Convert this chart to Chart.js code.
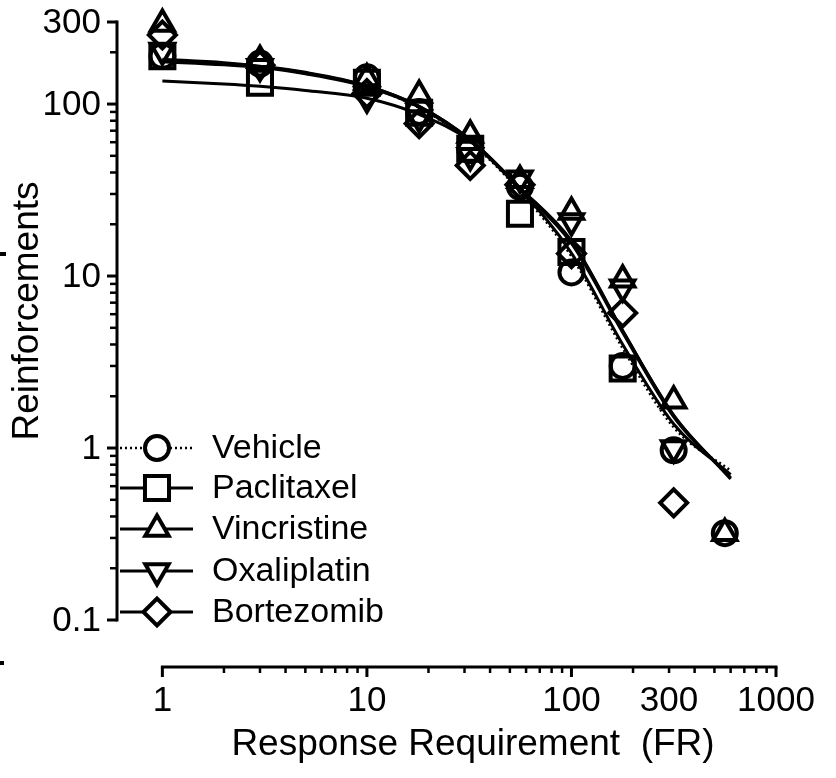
<!DOCTYPE html>
<html>
<head>
<meta charset="utf-8">
<script src="https://cdn.jsdelivr.net/npm/chart.js@4.4.1/dist/chart.umd.min.js"></script>
<style>
  html, body { margin: 0; padding: 0; background: #fff; }
</style>
</head>
<body>
<canvas id="demandChart" width="836" height="778"></canvas>
<script>
// Fixed-ratio schedule values (x) and reinforcers earned per group
const fr = [1, 3, 10, 18, 32, 56, 100, 178, 316, 562];
const vehicle     = [190, 172, 143, 90, 54, 33, 10.5, 3.0, 0.97, 0.32];
const paclitaxel  = [190, 133, 133, 89, 55, 23, 13.8, 2.9, null, null];
const vincristine = [292, 180, 141, 113, 66, 36, 23.6, 9.5, 1.88, 0.32];
const oxaliplatin = [205, 165, 108, 83, 50, 37, 20.9, 8.6, 1.0, null];
const bortezomib  = [252, 168, 115, 77, 44, 34, 13.5, 6.1, 0.48, null];

// Fitted demand curves, sampled along the x axis
const fitFr = [1, 2, 3, 5, 10, 18, 32, 56, 100, 178, 316, 600];
const vehicleFit     = [178, 171, 164, 151, 126, 95, 60, 31, 13.0, 3.8, 1.32, 0.74];
const paclitaxelFit  = [136, 131, 127, 120, 108, 87, 61, 32, 15.5, 4.7, 1.52, 0.67];
const vincristineFit = [182, 174, 166, 153, 128, 97, 62, 32.5, 16.0, 4.8, 1.55, 0.66];
const oxaliplatinFit = [176, 169, 163, 150, 126, 96, 61, 32, 13.6, 4.0, 1.38, 0.70];
const bortezomibFit  = [180, 172, 165, 152, 127, 97, 62, 32.5, 15.8, 4.8, 1.55, 0.67];

const groups = ["Vehicle", "Paclitaxel", "Vincristine", "Oxaliplatin", "Bortezomib"];

const xTickValues = [1, 10, 100, 300, 1000];
const xTickLabels = ["1", "10", "100", "300", "1000"];
const yTickValues = [0.1, 1, 10, 100, 300];
const yTickLabels = ["0.1", "1", "10", "100", "300"];

const FONT = "'Liberation Sans', Arial, sans-serif";

const markers = [
  { pointStyle: 'circle', radius: 12, rotation: 0 },
  { pointStyle: 'rect', radius: 17, rotation: 0 },
  { pointStyle: 'triangle', radius: 13.5, rotation: 0 },
  { pointStyle: 'triangle', radius: 13.5, rotation: 180 },
  { pointStyle: 'rectRot', radius: 13.5, rotation: 0 }
];

function pairs(xs, ys) {
  const out = [];
  xs.forEach((x, i) => { if (ys[i] != null) out.push({ x: x, y: ys[i] }); });
  return out;
}

const pointSets = [vehicle, paclitaxel, vincristine, oxaliplatin, bortezomib];
const fitSets = [vehicleFit, paclitaxelFit, vincristineFit, oxaliplatinFit, bortezomibFit];

const datasets = [];
pointSets.forEach((vals, i) => {
  datasets.push({
    label: groups[i],
    data: pairs(fr, vals),
    showLine: false,
    pointStyle: markers[i].pointStyle,
    pointRadius: markers[i].radius,
    pointRotation: markers[i].rotation,
    pointBorderWidth: 4,
    pointBorderColor: '#000',
    pointBackgroundColor: 'rgba(0,0,0,0)',
    clip: false
  });
});
fitSets.forEach((vals, i) => {
  datasets.push({
    label: groups[i] + ' fit',
    data: pairs(fitFr, vals),
    showLine: true,
    pointRadius: 0,
    borderColor: '#000',
    borderWidth: i === 0 ? 2.5 : 3,
    borderDash: i === 0 ? [2, 3] : [],
    cubicInterpolationMode: 'monotone',
    clip: false
  });
});

// Prism-style offset axes, tick marks, labels and the in-plot legend
const axesPlugin = {
  id: 'axesPlugin',
  beforeDatasetsDraw(chart) {
    const ctx = chart.ctx;
    const xs = chart.scales.x, ys = chart.scales.y;
    ctx.save();
    ctx.strokeStyle = '#000';
    ctx.fillStyle = '#000';
    ctx.lineWidth = 3;
    ctx.lineCap = 'butt';

    // y axis
    const yAxisX = xs.left;
    const yTop = ys.getPixelForValue(300), yBot = ys.getPixelForValue(0.1);
    ctx.beginPath();
    ctx.moveTo(yAxisX, yTop - 1.5);
    ctx.lineTo(yAxisX, yBot + 1.5);
    ctx.stroke();
    const yMinor = [];
    [0.1, 1, 10].forEach(d => { for (let k = 2; k <= 9; k++) yMinor.push(d * k); });
    yMinor.push(200);
    ctx.lineWidth = 2.5;
    yMinor.forEach(v => {
      const py = ys.getPixelForValue(v);
      ctx.beginPath(); ctx.moveTo(yAxisX, py); ctx.lineTo(yAxisX - 7, py); ctx.stroke();
    });
    ctx.lineWidth = 3;
    yTickValues.forEach(v => {
      const py = ys.getPixelForValue(v);
      ctx.beginPath(); ctx.moveTo(yAxisX, py); ctx.lineTo(yAxisX - 10, py); ctx.stroke();
    });
    ctx.font = '35px ' + FONT;
    ctx.textAlign = 'right';
    ctx.textBaseline = 'middle';
    yTickValues.forEach((v, i) => {
      ctx.fillText(yTickLabels[i], yAxisX - 16, ys.getPixelForValue(v) + 1);
    });

    // x axis
    const xAxisY = ys.bottom;
    const xL = xs.getPixelForValue(1), xR = xs.getPixelForValue(1000);
    ctx.beginPath();
    ctx.moveTo(xL - 1.5, xAxisY);
    ctx.lineTo(xR + 1.5, xAxisY);
    ctx.stroke();
    ctx.lineWidth = 2.5;
    [1, 10, 100].forEach(d => {
      for (let k = 2; k <= 9; k++) {
        const px = xs.getPixelForValue(d * k);
        ctx.beginPath(); ctx.moveTo(px, xAxisY); ctx.lineTo(px, xAxisY + 6); ctx.stroke();
      }
    });
    ctx.lineWidth = 3;
    [1, 10, 100, 1000].forEach(v => {
      const px = xs.getPixelForValue(v);
      ctx.beginPath(); ctx.moveTo(px, xAxisY); ctx.lineTo(px, xAxisY + 10); ctx.stroke();
    });
    ctx.textAlign = 'center';
    ctx.textBaseline = 'middle';
    xTickValues.forEach((v, i) => {
      ctx.fillText(xTickLabels[i], xs.getPixelForValue(v), xAxisY + 34);
    });

    // axis titles
    ctx.font = '37px ' + FONT;
    ctx.fillText('Response Requirement  (FR)', 473, 745);
    ctx.save();
    ctx.translate(28, 311);
    ctx.rotate(-Math.PI / 2);
    ctx.fillText('Reinforcements', 0, 0);
    ctx.restore();

    // stray marks at the left edge
    ctx.fillRect(0, 252, 6, 4);
    ctx.fillRect(0, 661, 4, 4);

    // legend
    const rowY = [448, 488, 529, 571, 612];
    ctx.font = '34px ' + FONT;
    ctx.textAlign = 'left';
    groups.forEach((g, i) => {
      const y = rowY[i];
      ctx.lineWidth = i === 0 ? 2.5 : 3;
      ctx.setLineDash(i === 0 ? [2, 3] : []);
      ctx.beginPath(); ctx.moveTo(120, y); ctx.lineTo(193, y); ctx.stroke();
      ctx.setLineDash([]);
      ctx.fillStyle = '#fff';
      ctx.lineWidth = 4;
      Chart.helpers.drawPoint(ctx, {
        pointStyle: markers[i].pointStyle,
        radius: markers[i].radius,
        rotation: markers[i].rotation,
        borderWidth: 4
      }, 157, y);
      ctx.fillStyle = '#000';
      ctx.fillText(g, 212, y + 1);
    });
    ctx.restore();
  }
};

new Chart(document.getElementById('demandChart'), {
  type: 'scatter',
  data: { datasets: datasets },
  options: {
    responsive: false,
    animation: false,
    devicePixelRatio: 1,
    layout: { padding: { left: 117, right: 60, top: 22, bottom: 111 } },
    scales: {
      x: { type: 'logarithmic', min: 0.632, max: 1000, display: false },
      y: { type: 'logarithmic', min: 0.0533, max: 300, display: false }
    },
    plugins: {
      legend: { display: false },
      tooltip: { enabled: false }
    }
  },
  plugins: [axesPlugin]
});
</script>
</body>
</html>
